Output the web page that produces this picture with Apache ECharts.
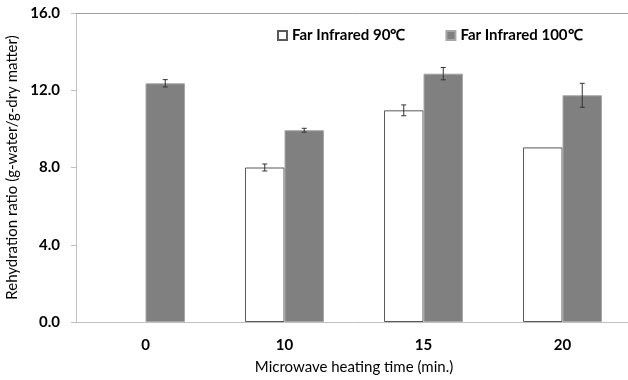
<!DOCTYPE html>
<html>
<head>
<meta charset="utf-8">
<script src="https://cdn.jsdelivr.net/npm/echarts@6/dist/echarts.min.js"></script>
<style>html,body{margin:0;padding:0;background:#fff}#c{width:628px;height:380px}</style>
</head>
<body>
<div id="c"></div>
<script>
const categories = ['0', '10', '15', '20'];
const seriesNames = ['Far Infrared 90℃', 'Far Infrared 100℃'];
const fi90 = [null, 8.0, 10.96, 9.04];
const fi90Err = [null, 0.18, 0.28, 0];
const fi100 = [12.36, 9.93, 12.86, 11.74];
const fi100Err = [0.19, 0.1, 0.32, 0.62];
const yTicks = [0, 4, 8, 12, 16];

const FONT = 'Lato';
const BAR_RATIO = 0.284;

function errData(vals, errs) {
  const out = [];
  vals.forEach((v, i) => { if (v != null && errs[i]) out.push([i, v, errs[i]]); });
  return out;
}
function errSeries(vals, errs, sign) {
  return {
    type: 'custom',
    z: 10,
    silent: true,
    data: errData(vals, errs),
    renderItem: function (params, api) {
      const idx = api.value(0), v = api.value(1), e = api.value(2);
      const c = api.coord([idx, v]);
      const bw = api.size([1, 0])[0] * BAR_RATIO;
      const x = c[0] + sign * bw / 2;
      const hi = api.coord([idx, v + e])[1];
      const lo = api.coord([idx, v - e])[1];
      const cap = 2.5;
      const st = { stroke: '#333', lineWidth: 1 };
      return { type: 'group', children: [
        { type: 'line', shape: { x1: x, y1: hi, x2: x, y2: lo }, style: st },
        { type: 'line', shape: { x1: x - cap, y1: hi, x2: x + cap, y2: hi }, style: st },
        { type: 'line', shape: { x1: x - cap, y1: lo, x2: x + cap, y2: lo }, style: st }
      ]};
    }
  };
}

const chart = echarts.init(document.getElementById('c'));
chart.setOption({
  animation: false,
  backgroundColor: '#fff',
  grid: { left: 76, right: -4, top: 13, bottom: 58, containLabel: false, outerBoundsMode: 'none' },
  legend: {
    left: 272, top: 23,
    itemWidth: 9, itemHeight: 9, itemGap: 40,
    icon: 'rect',
    data: seriesNames,
    textStyle: { fontFamily: FONT, fontWeight: 'bold', fontSize: 15, color: '#000' }
  },
  xAxis: [{
    type: 'category',
    data: categories,
    name: 'Microwave heating time (min.)',
    nameLocation: 'middle',
    nameGap: 38,
    nameTextStyle: { fontFamily: FONT, fontSize: 15, color: '#000' },
    axisLine: { lineStyle: { color: '#c0c0c0' } },
    axisTick: { show: false },
    axisLabel: { fontFamily: FONT, fontWeight: 'bold', fontSize: 15, color: '#000', margin: 16 }
  }, {
    type: 'category',
    data: categories,
    position: 'top',
    axisLine: { show: true, lineStyle: { color: '#a0a0a0' } },
    axisTick: { show: false },
    axisLabel: { show: false }
  }],
  yAxis: {
    type: 'value',
    min: 0, max: 16, interval: 4,
    name: 'Rehydration ratio (g-water/g-dry matter)',
    nameLocation: 'middle',
    nameGap: 55,
    nameTextStyle: { fontFamily: FONT, fontSize: 15, color: '#000' },
    axisLine: { show: true, lineStyle: { color: '#c0c0c0' } },
    axisTick: { show: true, length: 5, lineStyle: { color: '#c0c0c0' } },
    splitLine: { show: false },
    axisLabel: { fontFamily: FONT, fontWeight: 'bold', fontSize: 15, color: '#000', margin: 16,
      formatter: v => yTicks.includes(v) ? v.toFixed(1) : '' }
  },
  series: [
    { name: seriesNames[0], type: 'bar', data: fi90, barWidth: (BAR_RATIO * 100) + '%', barGap: '0%',
      itemStyle: { color: '#ffffff', borderColor: '#595959', borderWidth: 1 } },
    { name: seriesNames[1], type: 'bar', data: fi100, barWidth: (BAR_RATIO * 100) + '%', barGap: '0%',
      itemStyle: { color: '#808080', borderColor: '#a6a6a6', borderWidth: 1 } },
    errSeries(fi90, fi90Err, -1),
    errSeries(fi100, fi100Err, 1)
  ]
});
</script>
</body>
</html>
